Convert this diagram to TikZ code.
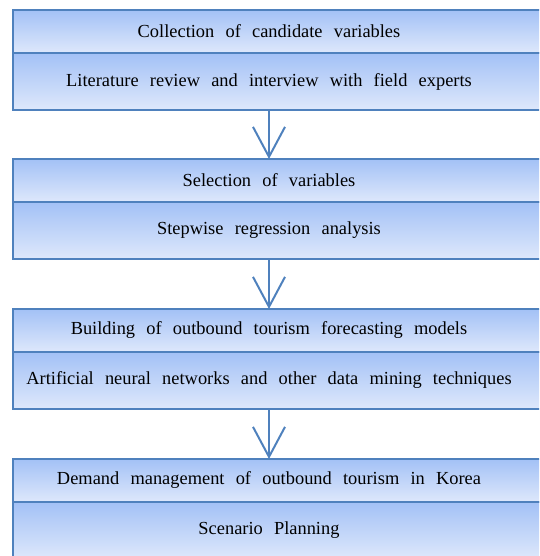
\documentclass[tikz,border=0pt]{standalone}
\usepackage{fontspec}
\setmainfont{Liberation Serif}
\usetikzlibrary{arrows.meta}
\usetikzlibrary{positioning}
\definecolor{boxline}{RGB}{79,129,189}
\definecolor{boxtop}{RGB}{163,193,246}
\definecolor{boxbot}{RGB}{222,232,251}
\newcommand{\stagefont}{\fontsize{18.4pt}{21pt}\selectfont\spaceskip=0.61em\relax}
\tikzset{stage/.style = {rectangle, draw = boxline, line width = 2pt,
    top color = boxtop, bottom color = boxbot, inner sep = 0pt, outer sep = 0pt,
    minimum width = 547pt, anchor = north west, font = \stagefont,
    execute at begin node = {\hskip-35pt\relax}}}
\tikzset{head/.style = {stage, minimum height = 43pt}}
\tikzset{body/.style = {stage, minimum height = 57pt}}
\tikzset{flow/.style = {draw = boxline, line width = 2pt,
    -{Straight Barb[length = 30pt, width = 32pt]}}}

\begin{document}
\begin{tikzpicture}[x = 1pt, y = 1pt]
    \useasboundingbox (0, 0) rectangle (539, -556);
    \clip (0, 0) rectangle (539, -556);

    \node [head] (collect) at (13, -10) {Collection of candidate variables};
    \node [body, below = 0pt of collect] (review) {Literature review and interview with field experts};

    \node [head, below = 49pt of review] (select) {Selection of variables};
    \node [body, below = 0pt of select] (stepwise) {Stepwise regression analysis};

    \node [head, below = 50pt of stepwise] (build) {Building of outbound tourism forecasting models};
    \node [body, below = 0pt of build] (mining) {Artificial neural networks and other data mining techniques};

    \node [head, below = 50pt of mining] (demand) {Demand management of outbound tourism in Korea};
    \node [body, below = 0pt of demand] (scenario) {Scenario Planning};

    \draw [flow] ([xshift = -17.5pt] review.south) -- ([xshift = -17.5pt] select.north);
    \draw [flow] ([xshift = -17.5pt] stepwise.south) -- ([xshift = -17.5pt] build.north);
    \draw [flow] ([xshift = -17.5pt] mining.south) -- ([xshift = -17.5pt] demand.north);
  \end{tikzpicture}
\end{document}
